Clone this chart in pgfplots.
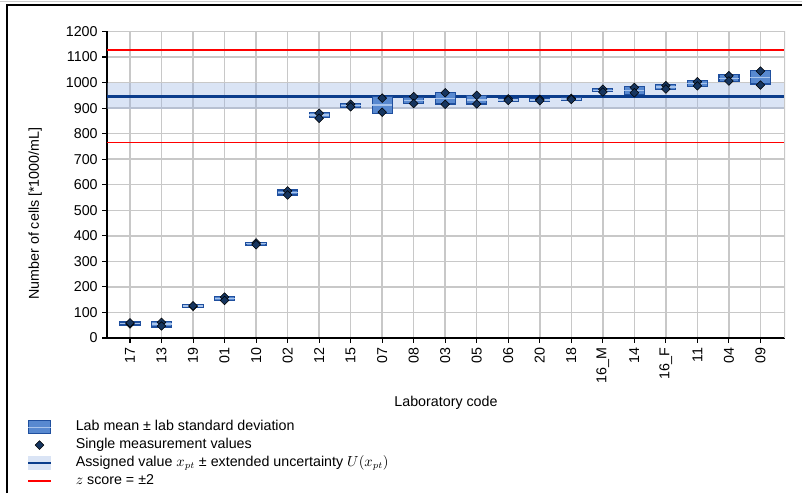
\documentclass[border=0pt]{standalone}
\usepackage{fontspec}
\setmainfont{Liberation Sans}
\usepackage{pgfplots}
\usepackage{pgfplotstable}
\pgfplotsset{compat=1.18}
\usepgfplotslibrary{fillbetween}

\definecolor{boxfill}{HTML}{5889D0}
\definecolor{boxdraw}{HTML}{1F4F9E}
\definecolor{meanline}{HTML}{A8C4EC}
\definecolor{ptfill}{HTML}{16355F}
\definecolor{assign}{HTML}{0B3D8C}
\definecolor{band}{HTML}{9AB5E3}
\definecolor{gridc}{HTML}{C8C8C8}

% lab index, mean, mean-sd, box height (2 sd), two single values
\pgfplotstableread{
idx mean lo h p1 p2
0 57 51 12 55 59
1 55 43 22 61 47
2 125 120 10 124 126
3 154 146 15 160 147
4 369 362 13 372 365
5 570 560 19 576 560
6 873 864 19 880 860
7 911 903 16 915 905
8 912 880 64 939 884
9 930 917 26 945 918
10 938 916 44 960 915
11 932 916 32 950 916
12 932 925 14 936 930
13 932 926 12 934 929
14 936 930 12 938 934
15 970 964 12 974 963
16 970 954 32 981 960
17 982 972 20 988 975
18 995 983 24 1003 987
19 1017 1003 28 1027 1006
20 1020 994 52 1045 990
}\labdata

\newcommand{\chartfont}{\fontsize{10.7}{12.5}\selectfont}

\pgfplotsset{
  frame/.style={
    scale only axis,
    width=508.5pt, height=229.9pt,
    xmin=-0.73, xmax=20.78,
    ymin=0, ymax=1200,
  },
  single/.style={only marks, mark=square*, mark size=2.3pt,
    mark options={rotate=45, fill=ptfill, draw=black, line width=0.4pt}},
}

\begin{document}
\begin{tikzpicture}
% base axis: grid, band, reference lines, labels, legend
\begin{axis}[
    frame,
    axis x line*=bottom, axis y line*=left,
    axis line style={black, line width=1.1pt},
    xtick={0,...,20},
    xticklabels={17,13,19,01,10,02,12,15,07,08,03,05,06,20,18,16\_M,14,16\_F,11,04,09},
    ytick={0,100,...,1200},
    tick align=outside,
    major tick length=3.5pt,
    tick style={black, line width=0.8pt},
    grid=major,
    major grid style={gridc, line width=1.1pt},
    xticklabel style={rotate=90, anchor=east, font=\chartfont},
    yticklabel style={font=\chartfont},
    /pgf/number format/assume math mode=true,
    /pgf/number format/1000 sep={},
    xlabel={Laboratory code},
    xlabel style={at={(axis description cs:0.5,-0.212)}, anchor=center, font=\chartfont},
    ylabel={Number of cells [*1000/mL]},
    ylabel style={at={(axis description cs:-0.106,0.406)}, anchor=center, font=\chartfont},
    legend cell align=left,
    legend style={at={(axis description cs:-0.118,-0.264)}, anchor=north west,
        draw=none, fill=none, inner sep=0pt, row sep=1.4pt, font=\chartfont,
        nodes={inner sep=1pt, text height=0.75em, text depth=0.25em},
        /tikz/every odd column/.append style={column sep=17pt}},
]
    % assigned value band
    \addplot[name path=bandlo, draw=none, forget plot] coordinates {(-0.73,897) (20.78,897)};
    \addplot[name path=bandhi, draw=none, forget plot] coordinates {(-0.73,997) (20.78,997)};
    \addplot[fill=band, fill opacity=0.37, draw=none, forget plot] fill between[of=bandlo and bandhi];
    % z score limits
    \addplot[red, line width=1.1pt, forget plot] coordinates {(-0.73,765) (20.78,765)};
    \addplot[red, line width=1.1pt, forget plot] coordinates {(-0.73,1128) (20.78,1128)};
    % assigned value
    \addplot[assign, line width=2.2pt, forget plot] coordinates {(-0.73,947) (20.78,947)};

    \draw[gridc, line width=1.1pt] (rel axis cs:1,0) -- (rel axis cs:1,1);

    % legend
    \addlegendimage{legend image code/.code={
        \draw[fill=boxfill, draw=boxdraw, line width=0.9pt] (0cm,-5pt) rectangle (0.6cm,5pt);
        \draw[meanline, line width=1pt] (0cm,0pt) -- (0.6cm,0pt);}}
    \addlegendentry{Lab mean ± lab standard deviation}
    \addlegendimage{single}
    \addlegendentry{Single measurement values}
    \addlegendimage{legend image code/.code={
        \fill[band, fill opacity=0.37, draw=none] (0cm,-5.5pt) rectangle (0.6cm,5.5pt);
        \draw[assign, line width=1.3pt] (0cm,0pt) -- (0.6cm,0pt);}}
    \addlegendentry{Assigned value $x_{pt}$ ± extended uncertainty $U(x_{pt})$}
    \addlegendimage{legend image code/.code={
        \draw[red, line width=1.1pt] (0cm,0pt) -- (0.6cm,0pt);}}
    \addlegendentry{$z$ score = ±2}
\end{axis}

% boxes: lab mean +- lab standard deviation
\begin{axis}[
    frame, hide axis,
    ybar stacked, bar width=15pt,
]
    \addplot[draw=none, fill=none] table[x=idx, y=lo] {\labdata};
    \addplot[draw=boxdraw, fill=boxfill, line width=0.9pt] table[x=idx, y=h] {\labdata};
\end{axis}

% lab means and single values
\begin{axis}[frame, hide axis]
    \addplot[only marks, mark=-, mark size=7.5pt,
        mark options={draw=meanline, line width=1pt}]
        table[x=idx, y=mean] {\labdata};
    \addplot[single] table[x=idx, y=p1] {\labdata};
    \addplot[single] table[x=idx, y=p2] {\labdata};
\end{axis}

\draw[gray!40, line width=0.6pt] (-80.25pt,252.75pt) -- (521.25pt,252.75pt);
\draw[black, line width=1.3pt] (-75pt,-116.25pt) -- (-75pt,249.75pt) -- (521.25pt,249.75pt);
\pgfresetboundingbox
\path[use as bounding box] (-80.25pt,-116.25pt) rectangle (521.25pt,253.5pt);
\end{tikzpicture}
\end{document}
